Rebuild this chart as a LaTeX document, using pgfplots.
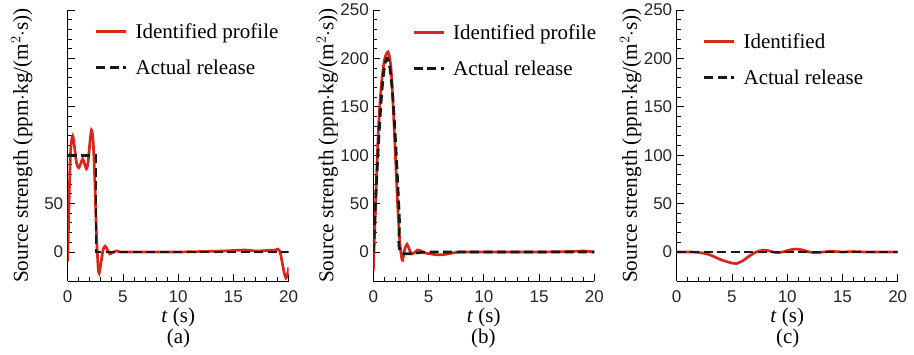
\documentclass[border=0pt]{standalone}
\usepackage{fontspec}
\setmainfont{Liberation Serif}
\setsansfont{Liberation Sans}
\usepackage{pgfplots}
\pgfplotsset{compat=1.18}
\definecolor{idred}{RGB}{215,40,30}
\pgfplotsset{
  panel/.style={
    width=221pt,height=271pt,scale only axis,
    xmin=0,xmax=20,ymin=-30,ymax=250,
    axis x line*=bottom, axis y line*=left,
    xtick={0,5,...,20}, minor x tick num=4,
    ytick={0,50,...,250}, minor y tick num=4,
    tick align=inside,
    major tick length=7pt, minor tick length=4pt,
    tick style={black, line width=0.9pt},
    axis line style={line width=1pt, black},
    ticklabel style={font=\sffamily\fontsize{17}{17}\selectfont, text=black!85},
    xticklabel style={yshift=-6pt},
    yticklabel style={xshift=-1pt},
    /pgf/number format/assume math mode=true,
    xlabel={\textit{t} (s)},
    xlabel style={font=\fontsize{21}{21}\selectfont, at={(axis description cs:0.5,0)}, anchor=center, yshift=-36pt},
    ylabel={Source strength (ppm$\cdot$kg/(m$^2\cdot$s))},
    ylabel style={font=\fontsize{21.2}{21}\selectfont, at={([xshift=-46pt]axis description cs:0,0.5)}, rotate=0, anchor=center},
    legend style={draw=none, fill=none, anchor=north west, inner sep=0pt, row sep=21pt, column sep=8pt,
      font=\fontsize{21}{21}\selectfont, nodes={inner sep=0pt, text depth=0pt}},
    legend cell align=left,
    legend image code/.code={\draw[#1] (0pt,0pt) -- (30pt,0pt);},
  },
  redl/.style={color=idred, line width=2.7pt, smooth, tension=0.5},
  blkl/.style={color=black!90, line width=2.7pt, dash pattern=on 9pt off 4.5pt},
}
\begin{document}
\begin{tikzpicture}
\useasboundingbox (0pt,0pt) rectangle (914pt,354pt);
% (a)
\begin{axis}[panel, at={(67.7pt,73pt)}, anchor=south west,
  yticklabels={0,50,{},{},{},{}},
  legend style={at={([xshift=27pt,yshift=-14pt]axis description cs:0,1)}}]
\addplot[redl] coordinates {
(0,-10) (0.1,40) (0.2,85) (0.3,110) (0.45,120) (0.6,110) (0.8,92) (1.0,87) (1.2,92) (1.35,96)
(1.5,92) (1.7,86) (1.85,93) (2.0,112) (2.15,126) (2.3,115) (2.45,75) (2.6,20) (2.75,-15)
(2.85,-22) (3.0,-12) (3.2,2) (3.4,6) (3.6,2) (3.8,-2) (4.0,-1) (4.4,1) (4.8,0) (6,0) (10,0)
(14,1) (16,2) (17,1) (18,1.5) (18.8,2) (19.0,3) (19.2,1) (19.4,-10) (19.6,-22) (19.75,-27)
(19.87,-24) (20,-16)};
\addlegendentry{Identified profile}
\addplot[blkl] coordinates {(0,100) (2.55,100) (2.55,0) (20,0)};
\addlegendentry{Actual release}
\end{axis}
\node[font=\fontsize{21}{21}\selectfont] at (178.5pt,16pt) {(a)};
% (b)
\begin{axis}[panel, at={(373.3pt,73pt)}, anchor=south west,
  legend style={at={([xshift=39pt,yshift=-15pt]axis description cs:0,1)}}]
\addplot[redl] coordinates {
(0,-20) (0.15,30) (0.3,80) (0.5,135) (0.75,175) (1.0,198) (1.25,206) (1.4,205) (1.6,190)
(1.8,150) (2.0,100) (2.2,50) (2.4,10) (2.6,-8) (2.7,-6) (2.85,3) (3.05,8) (3.25,3) (3.45,-2)
(3.7,-1) (4.0,2) (4.3,1) (4.7,-1) (5.2,-2) (5.8,-3) (6.5,-2.5) (7.2,-1) (8,0) (10,0) (15,0)
(18,0.5) (19,1) (20,0)};
\addlegendentry{Identified profile}
\addplot[blkl, smooth] coordinates {
(0,0) (0.125,31.3) (0.25,61.8) (0.375,90.8) (0.5,117.6) (0.625,141.4) (0.75,161.8)
(0.875,178.2) (1.0,190.2) (1.125,197.5) (1.25,200) (1.375,197.5) (1.5,190.2) (1.625,178.2)
(1.75,161.8) (1.875,141.4) (2.0,117.6) (2.125,90.8) (2.25,61.8) (2.375,31.3) (2.5,0)
(5,0) (10,0) (15,0) (20,0)};
\addlegendentry{Actual release}
\end{axis}
\node[font=\fontsize{21}{21}\selectfont] at (483.3pt,16pt) {(b)};
% (c)
\begin{axis}[panel, at={(676.7pt,73pt)}, anchor=south west,
  legend style={at={([xshift=26pt,yshift=-24pt]axis description cs:0,1)}}]
\addplot[redl] coordinates {
(0,0) (1,0) (2,-0.5) (3,-3) (4,-8) (5,-11.5) (5.4,-12) (6,-9) (6.6,-4) (7.2,0) (7.8,1.8)
(8.4,1) (9,-0.8) (9.6,0) (10.2,2) (10.8,3) (11.4,2) (12,0) (12.6,-0.8) (13.3,0) (14,0.6)
(15,0) (16,0.4) (17,0) (18,0) (20,0)};
\addlegendentry{Identified}
\addplot[blkl] coordinates {(0,0) (20,0)};
\addlegendentry{Actual release}
\end{axis}
\node[font=\fontsize{21}{21}\selectfont] at (787.7pt,16pt) {(c)};
\end{tikzpicture}
\end{document}
